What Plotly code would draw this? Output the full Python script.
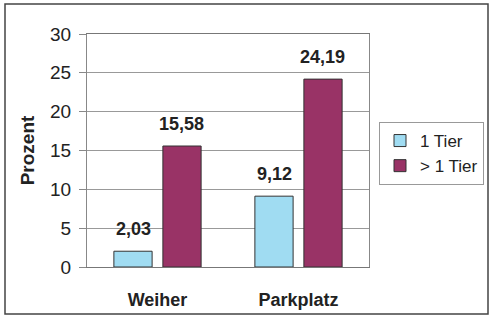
import plotly.graph_objects as go

categories = ["Weiher", "Parkplatz"]
series_names = ["1 Tier", "> 1 Tier"]
values_1 = [2.03, 9.12]
values_2 = [15.58, 24.19]
y_ticks = [0, 5, 10, 15, 20, 25, 30]

colors = ["#a0dcf2", "#993366"]
FONT = "Liberation Sans, Arial, sans-serif"

W, H = 490, 316
ml, mr, mt, mb = 87, 121, 34, 49
bargap = 0.305
bargroupgap = 0.22

fig = go.Figure()
for name, vals, col in zip(series_names, [values_1, values_2], colors):
    fig.add_trace(go.Bar(
        x=categories, y=vals, name=name,
        marker=dict(color=col, line=dict(color="#333333", width=1)),
    ))

# data labels as annotations above each bar
plot_w = W - ml - mr
cat_w = plot_w / len(categories)
slot = cat_w * (1 - bargap) / 2
for i, vals in enumerate([values_1, values_2]):
    shift = (i - 0.5) * slot
    for c, v in zip(categories, vals):
        fig.add_annotation(
            x=c, y=v, xref="x", yref="y", text=f"{v:.2f}".replace(".", ","),
            showarrow=False, xshift=shift, yshift=10, yanchor="bottom",
            font=dict(family=FONT, size=18, color="#222222", weight="bold"),
        )

plot_h = H - mt - mb
# outer frame
fig.add_shape(type="rect", xref="paper", yref="paper",
              x0=(5 - ml) / plot_w, x1=(488 - ml) / plot_w,
              y0=-(314 - (H - mb)) / plot_h, y1=((H - mb) - 4) / plot_h,
              line=dict(color="#444444", width=1.5), layer="below")

fig.update_layout(
    width=W, height=H,
    margin=dict(l=ml, r=mr, t=mt, b=mb, autoexpand=False),
    paper_bgcolor="white", plot_bgcolor="white",
    barmode="group", bargap=bargap, bargroupgap=bargroupgap,
    font=dict(family=FONT, size=18, color="#222222"),
    showlegend=True,
    legend=dict(
        x=(379 - ml) / plot_w, xanchor="left",
        y=((H - mb) - 122) / plot_h, yanchor="top",
        bordercolor="#999999", borderwidth=1, bgcolor="white",
        font=dict(family=FONT, size=17, color="#222222"),
        itemwidth=30, tracegroupgap=0,
    ),
    xaxis=dict(
        showline=True, linecolor="#777777", linewidth=1, mirror=True,
        showgrid=False, ticks="", ticklabelstandoff=16,
        tickfont=dict(family=FONT, size=18, color="#222222", weight="bold"),
    ),
    yaxis=dict(
        range=[0, 30], tickvals=y_ticks, ticktext=[str(t) for t in y_ticks],
        showline=True, linecolor="#888888", linewidth=1, mirror=True,
        showgrid=True, gridcolor="#999999", gridwidth=1,
        ticks="outside", ticklen=7, tickcolor="#888888",
        ticklabelstandoff=4, zeroline=False,
        tickfont=dict(family=FONT, size=19, color="#222222"),
        title=dict(text="Prozent", standoff=10,
                   font=dict(family=FONT, size=19, color="#222222", weight="bold")),
    ),
)

fig.write_html("out.html", config={"displayModeBar": False},
               post_script="document.body.style.margin='0';document.body.style.overflow='hidden';")
